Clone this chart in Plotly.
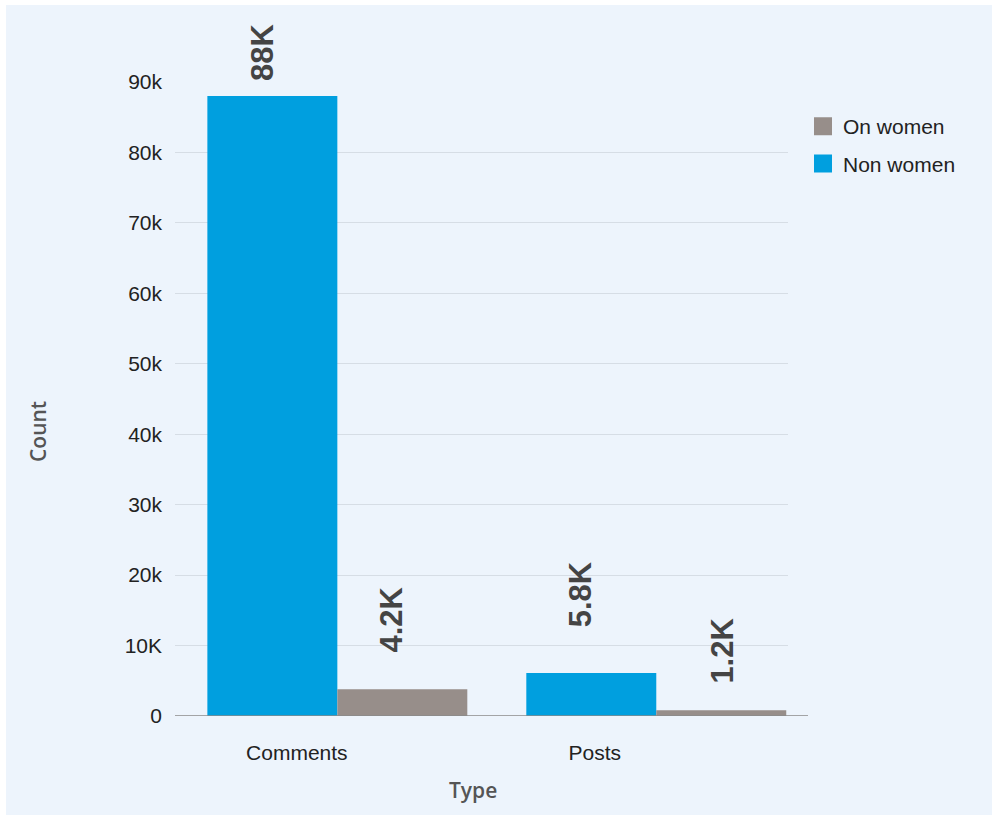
import plotly.graph_objects as go

# ---- data ----
categories = ["Comments", "Posts"]
non_women = [88000, 6100]
on_women = [3800, 800]
non_women_labels = ["88K", "5.8K"]
on_women_labels = ["4.2K", "1.2K"]
y_tickvals = [0, 10000, 20000, 30000, 40000, 50000, 60000, 70000, 80000, 90000]
y_ticktext = ["0", "10K", "20k", "30k", "40k", "50k", "60k", "70k", "80k", "90k"]

# ---- styles ----
BLUE = "#009FDF"
GRAY = "#978E8A"
BG = "#EDF4FC"
W, H = 998, 820
ML, MR, MT, MB = 175, 210, 82, 104
PW, PH = W - ML - MR, H - MT - MB
BARGAP = 0.185
half = (1 - BARGAP) / 4  # offset of each bar centre from category centre

# per-label fine offsets (px): dx, gap above bar
nw_dx, nw_gap = [-10, -11], [13, 44]
ow_dx, ow_gap = [-11, 1], [35, 25]
tick_shift = [-0.127, -0.193]

def px_x(p):
    return (p - ML) / PW

def px_y(p):
    return (MT + PH - p) / PH

fig = go.Figure()
fig.add_trace(go.Bar(x=categories, y=non_women, name="Non women",
                     marker=dict(color=BLUE, line=dict(width=0)), showlegend=False))
fig.add_trace(go.Bar(x=categories, y=on_women, name="On women",
                     marker=dict(color=GRAY, line=dict(width=0)), showlegend=False))

# legend entries
for nm, col, grp in [("On women", GRAY, "a"), ("Non women", BLUE, "b")]:
    fig.add_trace(go.Scatter(x=[None], y=[None], mode="markers", name=nm,
                             legendgroup=grp,
                             marker=dict(symbol="square", size=16, color=col,
                                         line=dict(color=col, width=2))))

label_font = dict(family="Liberation Sans", size=31, color="#444444", weight="bold")
ann = []
for i in range(len(categories)):
    ann.append(dict(x=i - half, y=non_women[i], xref="x", yref="y",
                    text=non_women_labels[i], textangle=-90, showarrow=False,
                    xanchor="center", yanchor="bottom",
                    xshift=nw_dx[i], yshift=nw_gap[i], font=label_font))
    ann.append(dict(x=i + half, y=on_women[i], xref="x", yref="y",
                    text=on_women_labels[i], textangle=-90, showarrow=False,
                    xanchor="center", yanchor="bottom",
                    xshift=ow_dx[i], yshift=ow_gap[i], font=label_font))

title_font = dict(family="Open Sans", size=21, color="#555555", weight=600)
ann.append(dict(x=px_x(38), y=px_y(432), xref="paper", yref="paper", text="Count",
                textangle=-90, showarrow=False, xanchor="center", yanchor="middle",
                font=title_font))
ann.append(dict(x=px_x(473), y=px_y(790), xref="paper", yref="paper", text="Type",
                showarrow=False, xanchor="center", yanchor="middle", font=title_font))

shapes = [
    dict(type="rect", xref="paper", yref="paper", layer="below",
         x0=px_x(6), x1=px_x(992), y0=px_y(815), y1=px_y(5),
         fillcolor=BG, line=dict(width=0)),
    dict(type="line", xref="paper", yref="y", x0=0, x1=px_x(808), y0=0, y1=0,
         line=dict(color="#8A8A8A", width=1.5)),
]

fig.update_layout(
    width=W, height=H,
    margin=dict(l=ML, r=MR, t=MT, b=MB, pad=0),
    paper_bgcolor="white", plot_bgcolor="rgba(0,0,0,0)",
    barmode="group", bargap=BARGAP, bargroupgap=0,
    font=dict(family="Liberation Sans", size=21, color="#222222"),
    showlegend=True,
    legend=dict(x=px_x(803), y=px_y(106), xanchor="left", yanchor="top",
                bgcolor="rgba(0,0,0,0)", tracegroupgap=7,
                font=dict(family="Liberation Sans", size=21, color="#222222")),
    annotations=ann, shapes=shapes,
)
fig.update_xaxes(type="category", range=[-0.509, 1.413], showgrid=False, zeroline=False,
                 showline=False, ticks="", tickmode="array",
                 tickvals=[i + tick_shift[i] for i in range(len(categories))],
                 ticktext=categories, ticklabelstandoff=22)
fig.update_yaxes(range=[0, 90000], tickmode="array", tickvals=y_tickvals,
                 ticktext=y_ticktext, showgrid=True, gridcolor="#D6DDE5", gridwidth=1,
                 zeroline=False, showline=False, ticks="", ticklabelstandoff=12)

fig.write_html("out.html")
